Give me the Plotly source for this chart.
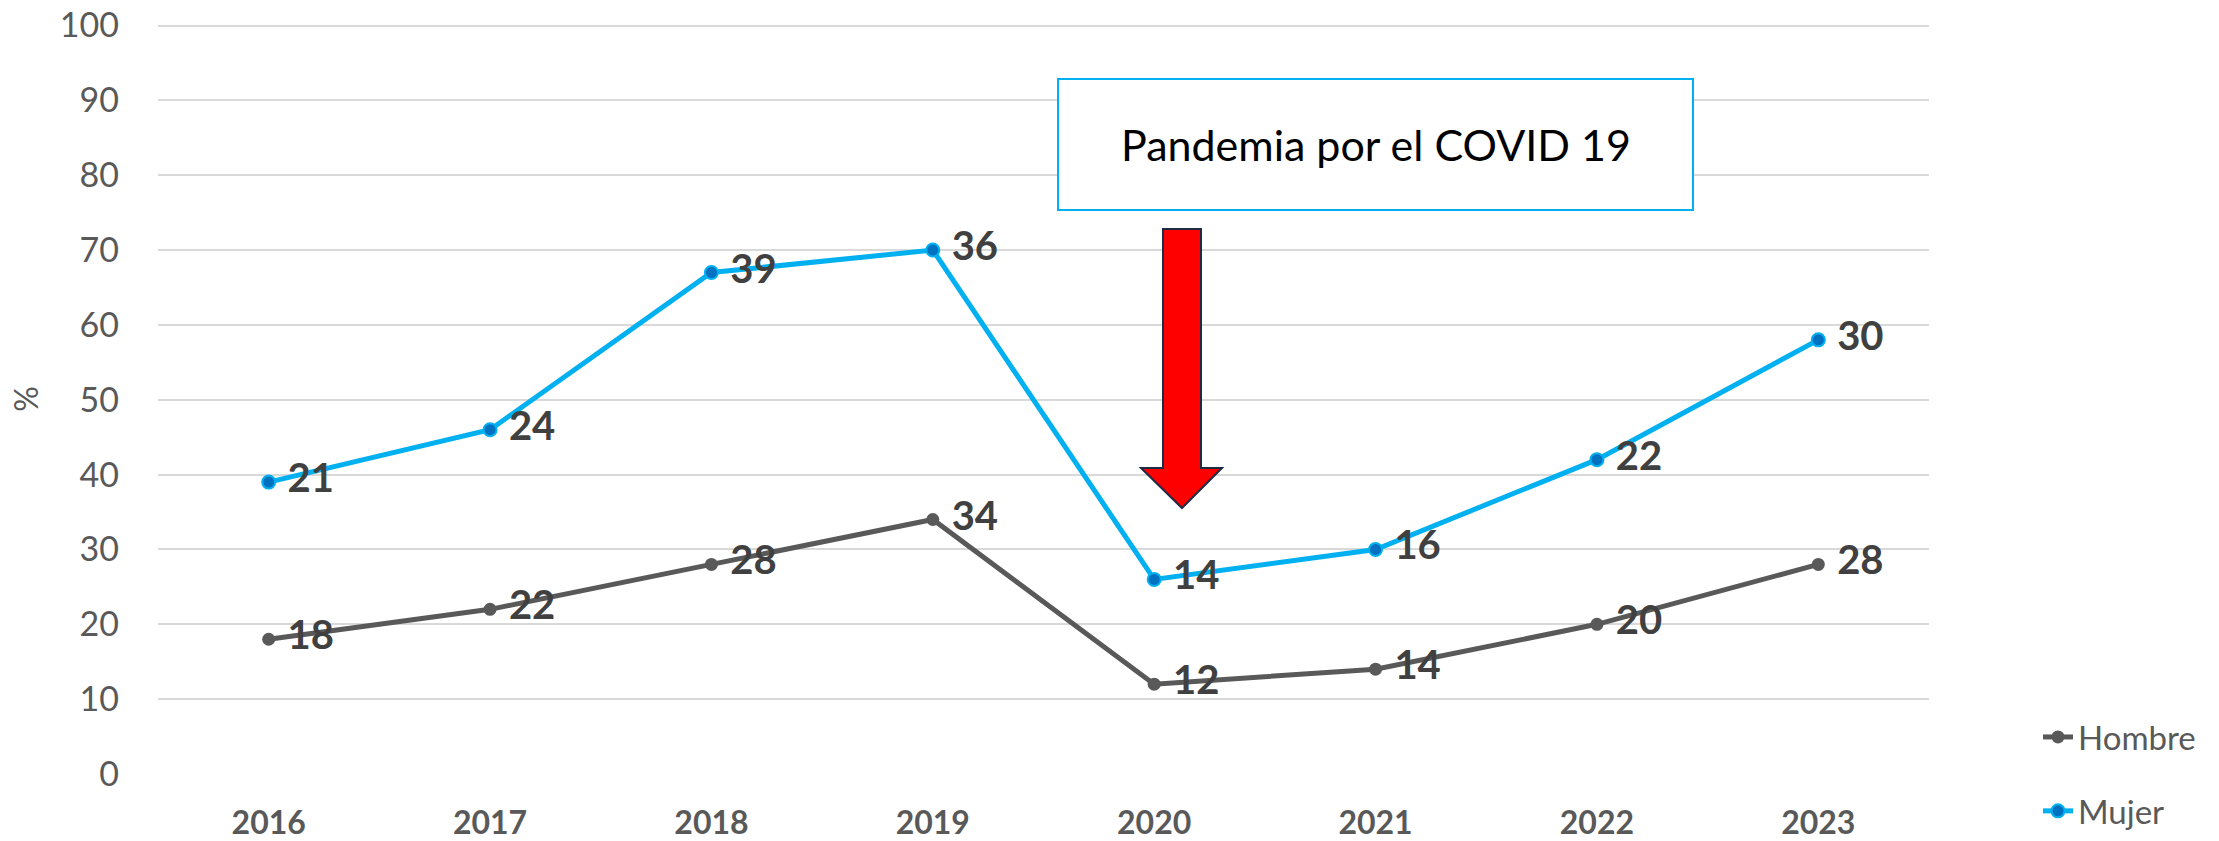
import plotly.graph_objects as go

years = ["2016", "2017", "2018", "2019", "2020", "2021", "2022", "2023"]
hombre = [18, 22, 28, 34, 12, 14, 20, 28]
mujer = [21, 24, 39, 36, 14, 16, 22, 30]

FONT = "Lato"
W, H = 2219, 841
L, R, T, B = 158, 290, 24, 67
PW, PH = W - L - R, H - T - B
PAD = "\u00a0"


def px(x):
    return (x - L) / PW


def py(y):
    return (H - B - y) / PH


fig = go.Figure()
fig.add_trace(go.Scatter(
    x=years, y=hombre, name="Hombre", stackgroup="s", fill="none",
    mode="lines+markers+text", text=[PAD + str(v) for v in hombre],
    textposition="middle right",
    textfont=dict(family=FONT, size=40, color="#404040", weight="bold"),
    line=dict(color="#595959", width=5),
    marker=dict(color="#595959", size=13),
    legendgroup="h", hoverinfo="skip",
))
fig.add_trace(go.Scatter(
    x=years, y=mujer, name="Mujer", stackgroup="s", fill="none",
    mode="lines+markers+text", text=[PAD + str(v) for v in mujer],
    textposition="middle right",
    textfont=dict(family=FONT, size=40, color="#404040", weight="bold"),
    line=dict(color="#00B0F0", width=5),
    marker=dict(color="#0070C0", size=13, line=dict(color="#00B0F0", width=2)),
    legendgroup="m", hoverinfo="skip",
))

# annotation box
fig.add_shape(type="rect", xref="paper", yref="paper",
              x0=px(1058), x1=px(1693), y0=py(210), y1=py(79),
              line=dict(color="#00B0F0", width=2), fillcolor="white", layer="above")
fig.add_annotation(xref="paper", yref="paper", x=px(1375.5), y=py(144.5),
                   xanchor="center", yanchor="middle",
                   text="Pandemia por el COVID 19", showarrow=False,
                   font=dict(family=FONT, size=43, color="#000000"))

# red arrow
pts = [(1163, 229), (1201, 229), (1201, 468), (1222, 468), (1182, 508),
       (1141, 468), (1163, 468)]
path = "M " + " L ".join(f"{px(x):.5f},{py(y):.5f}" for x, y in pts) + " Z"
fig.add_shape(type="path", xref="paper", yref="paper", path=path,
              fillcolor="#FF0000", line=dict(color="#1F2A44", width=2), layer="above")

fig.update_layout(
    width=W, height=H,
    margin=dict(l=L, r=R, t=T, b=B, autoexpand=False),
    plot_bgcolor="white", paper_bgcolor="white",
    showlegend=True,
    legend=dict(x=px(2038), y=py(774), xanchor="left", yanchor="middle",
                traceorder="grouped", tracegroupgap=28,
                font=dict(family=FONT, size=33, color="#595959"),
                bgcolor="rgba(0,0,0,0)"),
    xaxis=dict(type="category", range=[-0.5, 7.5], showgrid=False, showline=False,
               zeroline=False, ticks="", ticklabelstandoff=27, automargin=False,
               tickfont=dict(family=FONT, size=32, color="#595959", weight="bold")),
    yaxis=dict(range=[0, 100.2], tickvals=list(range(0, 101, 10)), showgrid=True,
               gridcolor="#D9D9D9", gridwidth=1.5, zeroline=False, showline=False,
               ticks="", ticklabelstandoff=38, automargin=False,
               tickfont=dict(family=FONT, size=34, color="#595959"),
               title=dict(text="%", standoff=11,
                          font=dict(family=FONT, size=32, color="#595959"))),
)

fig.write_html("out.html", config={"displayModeBar": False},
               post_script="document.body.style.margin='0';document.body.style.overflow='hidden';")
